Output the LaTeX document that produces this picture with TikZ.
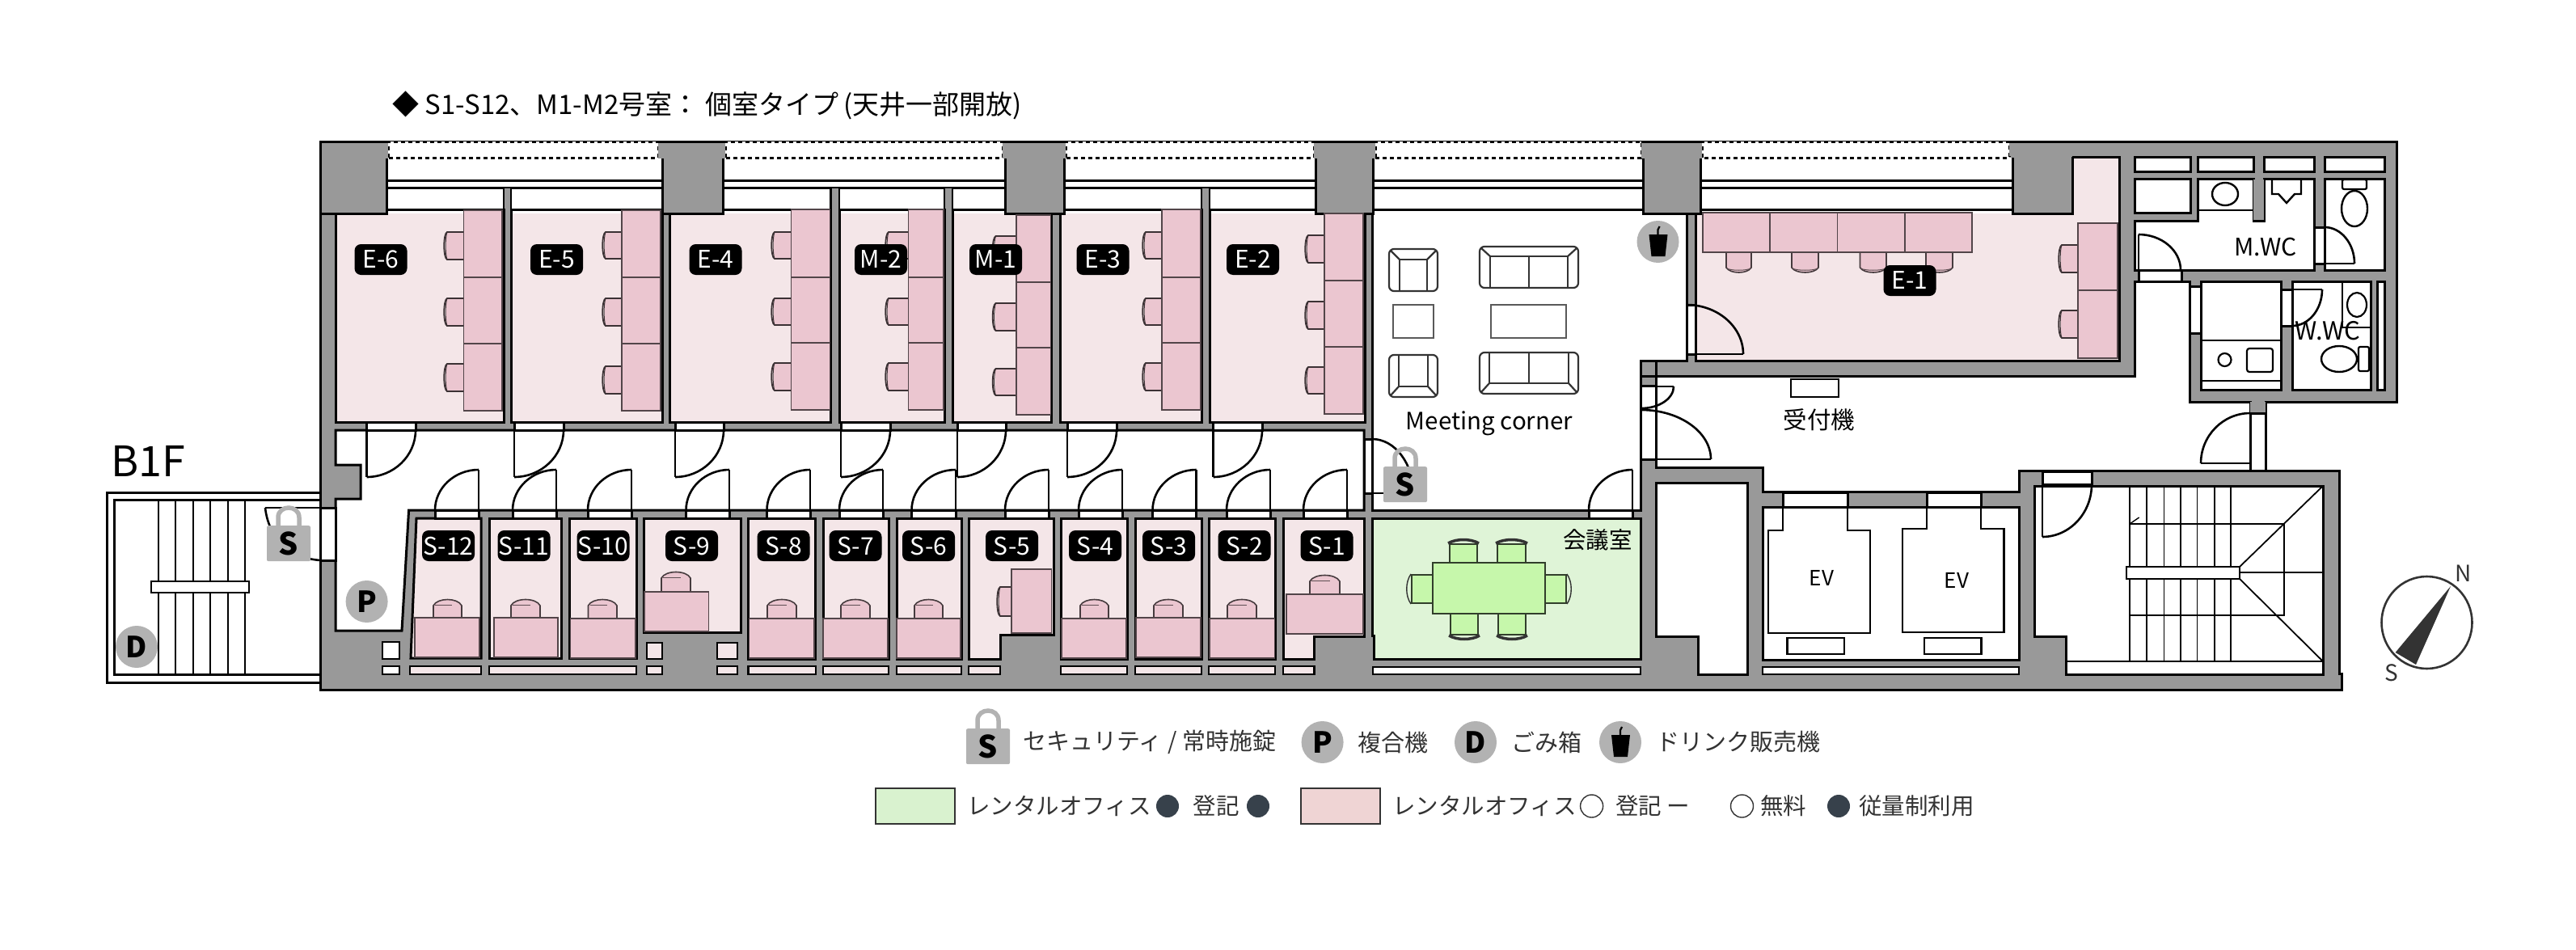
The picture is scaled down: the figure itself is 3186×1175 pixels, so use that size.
\documentclass[tikz,border=0pt]{standalone}
\usepackage{fontspec}
\setmainfont{Noto Sans CJK JP}
\definecolor{wallgrey}{HTML}{999999}
\definecolor{markgrey}{HTML}{B2B2B2}
\definecolor{roompink}{HTML}{F4E6E8}
\definecolor{deskpink}{HTML}{EBC6D0}
\definecolor{roomgreen}{HTML}{DFF4D7}
\definecolor{deskgreen}{HTML}{C6F7AB}
\definecolor{keygreen}{HTML}{D9F2CF}
\definecolor{keypink}{HTML}{EFD4D4}
\definecolor{inkgrey}{HTML}{333333}
\definecolor{dotdark}{HTML}{37414B}
\tikzset{
  wall/.style={fill=wallgrey,draw=black,line width=3pt,line join=miter},
  whiteroom/.style={fill=white,draw=black,line width=3pt,line join=miter},
  pinkroom/.style={fill=roompink,draw=black,line width=3pt,line join=miter},
  hair/.style={draw=black,line width=2pt},
  hingeline/.style={draw=black,line width=2.6pt},
  desk/.style={fill=deskpink,draw=black!65!deskpink,line width=1.6pt},
  greendesk/.style={fill=deskgreen,draw=black!75!deskgreen,line width=2pt},
  seatline/.style={draw=inkgrey,line width=2.2pt,rounded corners=0pt},
  tag/.style={fill=black,text=white,rounded corners=8pt,minimum width=65pt,minimum height=38pt,inner sep=0pt,font=\fontsize{30}{32}\selectfont},
  marker/.style={circle,fill=markgrey,minimum size=52pt,inner sep=0pt,font=\fontsize{36}{40}\selectfont\bfseries,text=black},
  lab/.style={inner sep=0pt,text=black},
  key/.style={inner sep=0pt,anchor=west,text=inkgrey,font=\fontsize{29}{34}\selectfont},
  keyb/.style={inner sep=0pt,anchor=west,text=inkgrey,font=\fontsize{28.5}{34}\selectfont},
  keybox/.style={draw=inkgrey,line width=1.5pt},
}
% quarter arc: leaves (x1,y1) horizontally, reaches (x2,y2) vertically
\newcommand\qarc[4]{\draw[hingeline] (#1,#2) .. controls ({#1+0.55*(#3-#1)},#2) and (#3,{#4+0.55*(#2-#4)}) .. (#3,#4);}
% door of the upper rooms
\newcommand\edoor[2]{%
  \path[whiteroom] (#1,522) rectangle (#2,532);
  \draw[hingeline] (#1,532) -- (#1,590);
  \qarc{#1}{590}{#2}{532}}
% door of the lower rooms
\newcommand\sdoor[2]{%
  \path[whiteroom] (#1,631) rectangle (#2,641);
  \draw[hingeline] (#2,631) -- (#2,581);
  \qarc{#2}{581}{#1}{631}}
\newcommand\window[4]{% l r ltop rtop
  \fill[white] (#1,195) rectangle (#2,259);
  \fill[white] (#3,175) rectangle (#4,195);
  \draw[black,line width=3pt,dash pattern=on 5pt off 4pt] (#3,195) -- (#3,175) -- (#4,175) -- (#4,195) -- cycle;
  \draw[black,line width=3pt] (#1,223) -- (#2,223) (#1,232) -- (#2,232);
}
\newcommand\column[4]{% l r ltop rtop
  \fill[wallgrey] (#1,194) rectangle (#2,264);
  \draw[black,line width=3pt] (#1,195) -- (#1,264) -- (#2,264) -- (#2,195);
  \path[fill=wallgrey] (#3,175) rectangle (#4,196);
  \draw[black,line width=3pt] (#3,175) -- (#4,175);
}
\newcommand\eroom[2]{%
  \path[whiteroom] (#1,259) rectangle (#2,522);
  \fill[roompink] ({#1+1.5},264) rectangle ({#2-1.5},520.5);}
\newcommand\stub[2]{\path[fill=wallgrey] (#1,233) rectangle (#2,265);
  \draw[black,line width=2.6pt] (#1,233) -- (#1,259) (#2,233) -- (#2,259);}
\newcommand\tripledesk[6]{% x1 x2 y1 y2 d1 d2
  \path[desk] (#1,#3) rectangle (#2,#4);
  \draw[desk,fill=none] (#1,#5) -- (#2,#5) (#1,#6) -- (#2,#6);}
\newcommand\chairL[4]{%
  \path[fill=deskpink] ({#1+4},#3) rectangle (#2,#4);
  \draw[black!75!deskpink,line width=1.8pt] (#2,#3) -- ({#1+5},#3) .. controls (#1,{#3+2}) and (#1,{#4-2}) .. ({#1+5},#4) -- (#2,#4);
  \draw[black!75!deskpink,line width=1pt] ({#1+5},#3) .. controls ({#1+2.5},{#3+6}) and ({#1+2.5},{#4-6}) .. ({#1+5},#4);
  \draw[black!65!deskpink,line width=1.6pt] (#2,{#3-1}) -- (#2,{#4+1});}
\newcommand\chairU[4]{%
  \path[fill=deskpink,draw=black!70!deskpink,line width=1.6pt] (#1,#4) -- (#1,{#3+8}) .. controls ({#1+5},{#3-2}) and ({#2-5},{#3-2}) .. (#2,{#3+8}) -- (#2,#4) -- cycle;
  \draw[black!60!deskpink,line width=1pt] ({#1+2},{#3+7}) -- ({#2-12},{#3+7});}
\newcommand\chairD[4]{%
  \path[fill=deskpink,draw=black!70!deskpink,line width=1.6pt] (#1,#3) -- (#1,{#4-6}) .. controls ({#1+5},{#4+2}) and ({#2-5},{#4+2}) .. (#2,{#4-6}) -- (#2,#3) -- cycle;
  \draw[black!60!deskpink,line width=1pt] ({#1+1},{#4-5}) .. controls ({#1+6},{#4-2}) and ({#2-6},{#4-2}) .. ({#2-1},{#4-5});}
\newcommand\seat[6]{% x1 y1 x2 y2 inset back; back on top
  \draw[seatline,rounded corners=6pt] (#1,#2) rectangle (#3,#4);
  \draw[seatline] ({#1+#5},#4) -- ({#1+#5},{#2+#6}) -- ({#3-#5},{#2+#6}) -- ({#3-#5},#4);
  \draw[seatline] ({#1+2},{#2+2}) -- ({#1+#5},{#2+#6}) ({#3-2},{#2+2}) -- ({#3-#5},{#2+#6});}
\newcommand\seatflip[6]{% back at the bottom
  \draw[seatline,rounded corners=6pt] (#1,#2) rectangle (#3,#4);
  \draw[seatline] ({#1+#5},#2) -- ({#1+#5},{#4-#6}) -- ({#3-#5},{#4-#6}) -- ({#3-#5},#2);
  \draw[seatline] ({#1+2},{#4-2}) -- ({#1+#5},{#4-#6}) ({#3-2},{#4-2}) -- ({#3-#5},{#4-#6});}
\newcommand\lockicon[3]{% name cx bodytop
  \draw[markgrey,line width=5.5pt] ({#2-13},{#3+2}) -- ({#2-13},{#3-10}) .. controls ({#2-13},{#3-26}) and ({#2+13},{#3-26}) .. ({#2+13},{#3-10}) -- ({#2+13},{#3+2});
  \node[fill=markgrey,rounded corners=2pt,minimum width=54pt,minimum height=44pt,inner sep=0pt,anchor=north,font=\fontsize{38}{40}\selectfont\bfseries,text=black] (#1) at (#2,#3) {S};}
\newcommand\drinkicon[3]{% name cx cy
  \node[circle,fill=markgrey,minimum size=52pt,inner sep=0pt] (#1) at (#2,#3) {};
  \fill[black] ({#2-11},{#3-9}) -- ({#2+12},{#3-9}) -- ({#2+9},{#3+18}) -- ({#2-8},{#3+18}) -- cycle;
  \draw[black,line width=2.2pt] ({#2},{#3-9}) -- ({#2},{#3-15}) -- ({#2+2},{#3-19});}
\begin{document}
\begin{tikzpicture}[x=1pt,y=-1pt]
\useasboundingbox (0,0) rectangle (3186,1175);
\fill[white] (0,0) rectangle (3186,1175);

% ---- title
\node[lab,anchor=west,font=\fontsize{33}{38}\selectfont] (title) at (485,130) {◆ S1-S12、M1-M2号室：\hspace{8pt}個室タイプ\hspace{6pt}(天井一部開放)};
\node[lab,anchor=west,font=\fontsize{52}{56}\selectfont] (floor) at (137,570) {B1F};

% ---- outer stair
\draw[black,line width=3pt,fill=white] (396,609) -- (132,609) -- (132,844) -- (396,844);
\draw[black,line width=3pt] (396,618) -- (141,618) -- (141,834) -- (396,834);
\foreach \sx in {196,217,239,260,282,302.5} \draw[hair] (\sx,618) -- (\sx,834);
\path[fill=white,draw=black,line width=2.4pt] (187,719) rectangle (308,733);

% ---- building mass
\path[wall] (396,175) -- (2964,175) -- (2964,497) -- (2802,497) -- (2802,582) -- (2893,582) -- (2893,833) -- (2896,833) -- (2896,853) -- (396,853) -- cycle;

% ---- windows between the columns
\window{478}{819}{480}{814}
\window{894}{1243}{897}{1240}
\window{1316}{1627}{1318}{1625}
\window{1698}{2032}{1701}{2030}
\window{2103}{2489}{2105}{2485}
\stub{623}{632}\stub{1027.5}{1038}\stub{1168}{1178}\stub{1486}{1496}

% ---- upper rooms
\eroom{415}{623}\eroom{632}{819}\eroom{828}{1027.5}\eroom{1038}{1168}\eroom{1178}{1300}\eroom{1311}{1486}\eroom{1496}{1688}
\path[whiteroom] (1697,259) -- (2086,259) -- (2086,446) -- (2029,446) -- (2029,631) -- (1697,631) -- cycle;
\path[whiteroom] (2097,259) -- (2489,259) -- (2489,264) -- (2563,264) -- (2563,194) -- (2621,194) -- (2621,446) -- (2097,446) -- cycle;
\fill[roompink] (2098.5,264) rectangle (2561,444.5);
\fill[roompink] (2561,195.5) rectangle (2619.5,444.5);
\draw[black,line width=3pt] (2489,264) -- (2563,264) -- (2563,194) -- (2621,194);

% ---- columns
\column{396}{478}{396}{480}
\column{819}{894}{814}{897}
\column{1243}{1316}{1240}{1318}
\column{1627}{1698}{1625}{1701}
\column{2032}{2103}{2030}{2105}
\fill[wallgrey] (2489,176.5) rectangle (2563,264);
\draw[black,line width=3pt] (2489,195) -- (2489,264) -- (2563,264) -- (2563,194);
\fill[wallgrey] (2485,176.5) rectangle (2600,193);
\draw[black,line width=3pt] (396,175) -- (396,853);
\draw[black,line width=2.6pt] (2621,194) -- (2621,446);

% ---- upper-room desks and chairs
\tripledesk{573.5}{621}{260}{508}{343}{425}
\chairL{548}{573.5}{287}{321}\chairL{548}{573.5}{369}{403}\chairL{548}{573.5}{450}{484}
\tripledesk{769}{817}{260}{508}{343}{425}
\chairL{744}{769}{287}{320}\chairL{744}{769}{369}{403}\chairL{744}{769}{453}{487}
\tripledesk{978.5}{1026.5}{259}{507}{343}{424}
\chairL{953}{978.5}{287}{320}\chairL{953}{978.5}{369}{402}\chairL{953}{978.5}{449}{483}
\tripledesk{1123.5}{1167}{259}{507}{343}{424}
\chairL{1094}{1123.5}{287}{320}\chairL{1094}{1123.5}{369}{402}\chairL{1094}{1123.5}{449}{483}
\tripledesk{1257}{1299.5}{266}{513}{349}{430}
\chairL{1226.5}{1257}{292}{325}\chairL{1226.5}{1257}{375}{409}\chairL{1226.5}{1257}{456}{489}
\tripledesk{1437}{1485}{259}{507}{343}{424}
\chairL{1412}{1437}{287}{320}\chairL{1412}{1437}{369}{402}\chairL{1412}{1437}{449}{483}
\tripledesk{1638}{1686}{264}{512}{347}{429}
\chairL{1613}{1638}{291}{325}\chairL{1613}{1638}{373}{407}\chairL{1613}{1638}{454}{487}

% ---- E-1 furniture
\chairD{2135}{2166}{312}{337}\chairD{2216}{2249}{312}{337}\chairD{2300.5}{2333}{312}{337}\chairD{2382}{2415}{312}{337}
\foreach \dx/\dy in {2106/2189,2189/2272.5,2272.5/2356,2356/2439} \path[desk] (\dx,263) rectangle (\dy,312);
\tripledesk{2570}{2619}{276}{443}{359}{359}
\chairL{2545}{2570}{303}{337}\chairL{2545}{2570}{384}{418}

% ---- meeting corner furniture
\seat{1718}{308}{1778}{360}{13}{13}
\seat{1830}{305}{1952}{356}{13}{12}
\draw[seatline] (1891,317) -- (1891,355);
\draw[seatline,line width=2pt,draw=black!65] (1723,377) rectangle (1772.5,418);
\draw[seatline,line width=2pt,draw=black!65] (1844,377) rectangle (1937,418);
\seatflip{1718}{439}{1778}{491}{12}{13}
\seatflip{1830}{436}{1952}{487}{12}{13}
\draw[seatline] (1891,437) -- (1891,474);

% ---- corridors
\path[whiteroom] (415,532) -- (1687,532) -- (1687,631) -- (505.6,631) -- (497,780) -- (415,780) -- (415,617) -- (446,617) -- (446,575) -- (415,575) -- cycle;
\path[whiteroom] (2048,465) -- (2640,465) -- (2640,348) -- (2708,348) -- (2708,497) -- (2783,497) -- (2783,582) -- (2497,582) -- (2497,608) -- (2180,608) -- (2180,578) -- (2048,578) -- cycle;
\path[wall] (2029,446) rectangle (2048,465);
\draw[black,line width=3pt] (2029,446) -- (2029,631);

% ---- lower rooms
\path[pinkroom] (515,641) -- (595,641) -- (595,814) -- (508,814) -- cycle;
\path[pinkroom] (605,641) rectangle (694,814);
\path[pinkroom] (704.6,641) rectangle (787,814);
\path[pinkroom] (796,641) rectangle (916,782);
\path[pinkroom] (925.5,641) rectangle (1008,815);
\path[pinkroom] (1018,641) rectangle (1099,815);
\path[pinkroom] (1109,641) rectangle (1189,815);
\path[pinkroom] (1198,641) -- (1303,641) -- (1303,785) -- (1237,785) -- (1237,815) -- (1198,815) -- cycle;
\path[pinkroom] (1312,641) rectangle (1394,815);
\path[pinkroom] (1404,641) rectangle (1486,815);
\path[pinkroom] (1495,641) rectangle (1577,815);
\path[pinkroom] (1587,641) -- (1687,641) -- (1687,787) -- (1625.5,787) -- (1625.5,815) -- (1587,815) -- cycle;

% ---- slots along the south side
\foreach \lx/\rx in {507/595,605/787,800/819,887/912,925.5/1009,1018/1099,1109/1189,1198/1237,1312/1394,1404/1486,1495/1577,1587/1625.5}
  \path[pinkroom,line width=2.4pt] (\lx,824) rectangle (\rx,834);
\path[whiteroom,line width=2.4pt] (473,824) rectangle (494,834);
\path[whiteroom,line width=2.4pt] (473,794) rectangle (494,815);
\path[pinkroom,line width=2.4pt] (800,795) rectangle (819,815);
\path[pinkroom,line width=2.4pt] (887,795) rectangle (912,815);
\path[whiteroom,line width=2.4pt] (1698,825) rectangle (2029,834);
\path[whiteroom,line width=2.4pt] (2180,825) rectangle (2497,834);

% ---- lower-room desks
\chairU{536}{571}{741}{764}\path[desk] (513,764) rectangle (593,813);
\chairU{632}{668}{741}{764}\path[desk] (611,764) rectangle (690,813);
\chairU{727.5}{763}{741}{765}\path[desk] (705.6,765) rectangle (786,814);
\chairU{818}{854}{707}{732}\path[desk] (797,732) rectangle (876.5,781);
\chairU{949}{985}{741}{765}\path[desk] (926.5,765) rectangle (1007,814);
\chairU{1040}{1076}{741}{765}\path[desk] (1018,765) rectangle (1098,814);
\chairU{1131}{1166}{741}{765}\path[desk] (1109,765) rectangle (1188,814);
\chairL{1232}{1251}{726}{762}\path[desk] (1251,704) rectangle (1300.5,783);
\chairU{1336}{1371}{741}{765}\path[desk] (1313,765) rectangle (1393,814);
\chairU{1427}{1463}{741}{764}\path[desk] (1405,764) rectangle (1485,813);
\chairU{1518}{1554}{741}{765}\path[desk] (1496,765) rectangle (1576.5,814);
\chairU{1620}{1657}{711}{735}\path[desk] (1591,735) rectangle (1686,784);

% ---- conference room
\path[draw=black,line width=3pt,fill=roomgreen] (1697,641) -- (2029,641) -- (2029,815) -- (1699,815) -- (1699,786) -- (1697,786) -- cycle;
\foreach \cx/\cw in {1793/1827,1852/1887}{
  \path[greendesk] (\cx,673) rectangle (\cw,696);
  \draw[inkgrey,line width=3.5pt] ({\cx-2},672) .. controls ({\cx+8},666) and ({\cw-8},666) .. ({\cw+2},672);
}
\foreach \cx/\cw in {1794/1828,1853/1887}{
  \path[greendesk] (\cx,759) rectangle (\cw,785);
  \draw[inkgrey,line width=3.5pt] ({\cx-2},786) .. controls ({\cx+8},792) and ({\cw-8},792) .. ({\cw+2},786);
}
\path[greendesk] (1746,711) rectangle (1772,746);
\draw[inkgrey,line width=1.4pt] (1745,710) .. controls (1738,720) and (1738,737) .. (1745,747);
\path[greendesk] (1911,711) rectangle (1937,746);
\draw[inkgrey,line width=1.4pt] (1938,710) .. controls (1945,720) and (1945,737) .. (1938,747);
\path[greendesk] (1772,696) rectangle (1911,759);
\node[lab,font=\fontsize{28.5}{32}\selectfont] (confroom) at (1976,668) {会議室};

% ---- shaft, lift lobby, stair
\path[whiteroom] (2048,597) -- (2161,597) -- (2161,834) -- (2100.5,834) -- (2100.5,787) -- (2048,787) -- cycle;
\path[whiteroom] (2180,627) rectangle (2497,816);
\path[whiteroom] (2205,609) rectangle (2285,627);
\path[whiteroom] (2383,609) rectangle (2450,627);
\draw[black,line width=2.2pt] (2205,627) -- (2205,656) -- (2187,656) -- (2187,783) -- (2313,783) -- (2313,656) -- (2285,656) -- (2285,627);
\draw[black,line width=2.2pt] (2383,627) -- (2383,654) -- (2353,654) -- (2353,782) -- (2478.5,782) -- (2478.5,654) -- (2450,654) -- (2450,627);
\draw[hair,line width=2.4pt] (2210.5,789) rectangle (2281,809);
\draw[hair,line width=2.4pt] (2380,789) rectangle (2450.5,809);
\node[lab,font=\fontsize{26}{28}\selectfont] (evone) at (2253,715) {EV};
\node[lab,font=\fontsize{26}{28}\selectfont] (evtwo) at (2420,718) {EV};

\path[whiteroom] (2516.5,601) -- (2873,601) -- (2873,834) -- (2555,834) -- (2555,787) -- (2516.5,787) -- cycle;
\foreach \sx in {2634,2655,2676.5,2697,2717.5,2739,2759} \draw[black,line width=1.4pt] (\sx,601) -- (\sx,818);
\draw[black,line width=1.6pt] (2555,818) -- (2873,818);
\draw[black,line width=1.8pt] (2634,648) -- (2825,648) -- (2825,761) -- (2634,761);
\draw[black,line width=1.8pt] (2873,601) -- (2770,701) (2770,716) -- (2873,818) (2770,708) -- (2873,708);
\draw[black,line width=1.4pt] (2634,648) -- (2645.6,640);
\path[fill=white,draw=black,line width=2pt] (2629.5,701) rectangle (2770,716);

% ---- washrooms
\foreach \lx/\rx in {2640/2709,2718/2787,2800/2862,2875/2949} \path[whiteroom] (\lx,194) rectangle (\rx,212);
\path[whiteroom] (2640,221) rectangle (2709,263);
\path[whiteroom] (2718,221) -- (2787,221) -- (2787,273) -- (2800,273) -- (2800,221) -- (2862,221) -- (2862,334) -- (2640,334) -- (2640,273) -- (2718,273) -- cycle;
\draw[black,line width=2.2pt] (2718,260) -- (2787,260);
\path[wall,draw=none] (2787,222) rectangle (2800,272);
\draw[black,line width=2.4pt] (2810,221) -- (2810,240) -- (2818,240) -- (2828,251) -- (2838,240) -- (2846,240) -- (2846,221);
\draw[black,line width=2.4pt] (2752,240) ellipse [x radius=16pt,y radius=14pt];
\path[whiteroom] (2875,221) rectangle (2949,334);
\path[fill=white,draw=black,line width=2.2pt,rounded corners=2pt] (2897,222) rectangle (2927,234);
\draw[black,line width=2.4pt] (2912,258) ellipse [x radius=16pt,y radius=22pt];
\path[whiteroom] (2645,334) rectangle (2698,348);
\draw[hingeline] (2645,334) -- (2645,290);
\qarc{2645}{290}{2697}{334}
\path[whiteroom] (2862,281) rectangle (2875,326);
\draw[hingeline] (2875,326) -- (2912,326);
\qarc{2875}{281}{2912}{326}
\node[lab,font=\fontsize{30}{32}\selectfont] (mwc) at (2802,306) {M.WC};

\path[whiteroom] (2722,348) rectangle (2821,482);
\draw[hair] (2722,421) -- (2821,421) (2722,471) -- (2821,471);
\path[whiteroom] (2708,354) rectangle (2722,412);
\draw[black,line width=2.2pt] (2751.5,445) ellipse [x radius=8pt,y radius=8pt];
\draw[black,line width=2.2pt,rounded corners=3pt] (2779,431) rectangle (2811,460);
\path[whiteroom] (2835,348) rectangle (2932,482);
\path[whiteroom] (2821,358) rectangle (2835,403);
\draw[hingeline] (2835,358) -- (2872,358);
\qarc{2835}{403}{2872}{358}
\draw[black,line width=2.2pt] (2897,348) -- (2897,405) -- (2932,405);
\draw[black,line width=2.2pt] (2915,377) ellipse [x radius=12pt,y radius=15pt];
\draw[black,line width=2.4pt] (2893,444) ellipse [x radius=22pt,y radius=16pt];
\path[fill=white,draw=black,line width=2.2pt,rounded corners=2pt] (2917,429) rectangle (2930,459);
\node[lab,font=\fontsize{31}{34}\selectfont] (wwc) at (2879,409) {W.WC};
\path[whiteroom] (2940,348) rectangle (2949,482);

% ---- doors
\edoor{453.5}{514}\edoor{636}{697}\edoor{835}{895}\edoor{1040}{1101}\edoor{1184}{1244}\edoor{1320}{1381}\edoor{1500.5}{1561}
\sdoor{538}{592}\sdoor{634}{688}\sdoor{727}{781}\sdoor{848.5}{902}\sdoor{948.5}{1002}\sdoor{1038}{1092}\sdoor{1127.5}{1182}\sdoor{1243}{1297}\sdoor{1334}{1388}\sdoor{1425.5}{1479.6}\sdoor{1517}{1571}\sdoor{1612}{1666}
\sdoor{1965}{2019}
% west door to the outer stair
\path[whiteroom] (396,628) rectangle (415,693);
\draw[hingeline] (328,628) -- (396,628);
\draw[hingeline] (328,628) .. controls (332,664) and (356,690) .. (396,693);
% door into the meeting corner
\path[whiteroom] (1687,543) rectangle (1697,610);
\draw[hingeline] (1697,610) -- (1748,610);
\qarc{1697}{543}{1748}{610}
% door E-1
\path[whiteroom] (2086,377) rectangle (2097,438);
\draw[hingeline] (2097,438) -- (2156,438);
\qarc{2086}{377}{2156}{438}
% doors at the lobby
\path[whiteroom] (2029,477) rectangle (2048,568);
\draw[hingeline] (2029,478) -- (2070,478);
\qarc{2030}{505}{2070}{478}
\draw[hingeline] (2029,568) -- (2116,568);
\qarc{2030}{507}{2116}{568}
% east lobby door
\path[fill=wallgrey] (2783,497) rectangle (2802,511);
\path[whiteroom] (2783,511) rectangle (2802,582);
\draw[hingeline] (2722,573) -- (2783,573);
\qarc{2783}{511}{2722}{573}
% stair door
\path[whiteroom] (2526,583) rectangle (2587,599);
\draw[hingeline] (2526,599) -- (2526,664);
\qarc{2526}{664}{2587}{599}
% reception unit
\draw[black,line width=2.6pt] (2215,469) rectangle (2274,491);
\node[lab,font=\fontsize{29.5}{32}\selectfont] (recept) at (2250,519) {受付機};
\node[lab,font=\fontsize{29.5}{32}\selectfont] (meet) at (1842,524) {Meeting corner};

% ---- room tags
\foreach \nm/\cx in {E-6/471,E-5/688.5,E-4/885,M-2/1089.5,M-1/1231.5,E-3/1364,E-2/1549.5}
  \node[tag] (tag\nm) at (\cx,321) {\nm};
\node[tag] (tagE-1) at (2362,347) {E-1};
\foreach \nm/\cx in {S-12/554.5,S-11/648,S-10/746,S-9/855.5,S-8/969,S-7/1058,S-6/1148.5,S-5/1251.5,S-4/1354.5,S-3/1445.5,S-2/1539,S-1/1641}
  \node[tag] (tag\nm) at (\cx,675) {\nm};

% ---- markers
\lockicon{lockwest}{357}{650}
\lockicon{lockmeet}{1738}{577}
\node[marker] (printer) at (453.6,744) {P};
\node[marker] (dustbin) at (169,800) {D};
\drinkicon{drinkplan}{2050.5}{299}

% ---- compass
\draw[inkgrey,line width=2.6pt] (3001.5,770) ellipse [x radius=56pt,y radius=57pt];
\fill[inkgrey] (3031,725) -- (2962.6,807) -- (2988,822) -- cycle;
\node[lab,text=inkgrey,font=\fontsize{28}{30}\selectfont] (north) at (3047,709) {N};
\node[lab,text=inkgrey,font=\fontsize{28}{30}\selectfont] (south) at (2957.5,832) {S};

% ---- legend, first row
\lockicon{lockkey}{1222}{901}
\node[key] (keysec) at (1265.5,918) {セキュリティ / 常時施錠};
\node[marker] (keyP) at (1635.6,918) {P};
\node[key] (keyPt) at (1679,918) {複合機};
\node[marker] (keyD) at (1825,918) {D};
\node[key] (keyDt) at (1869,918) {ごみ箱};
\drinkicon{keydrink}{2004}{918}
\node[key] (keydrinkt) at (2048,918) {ドリンク販売機};

% ---- legend, second row
\path[keybox,fill=keygreen] (1083,975) rectangle (1181,1019);
\node[keyb] (greenA) at (1196,997) {レンタルオフィス};
\fill[dotdark] (1444,997) circle [radius=14pt];
\node[keyb] (greenB) at (1475.5,997) {登記};
\fill[dotdark] (1556,997) circle [radius=14pt];
\path[keybox,fill=keypink] (1609,975) rectangle (1707,1019);
\node[keyb] (pinkA) at (1722,997) {レンタルオフィス};
\draw[inkgrey,line width=1.4pt] (1968.6,997) circle [radius=14pt];
\node[keyb] (pinkB) at (1998,997) {登記 ー};
\draw[inkgrey,line width=1.4pt] (2154.5,997) circle [radius=14pt];
\node[keyb] (freeT) at (2177,997) {無料};
\fill[dotdark] (2274,997) circle [radius=14pt];
\node[keyb] (meterT) at (2299,997) {従量制利用};
\end{tikzpicture}
\end{document}
